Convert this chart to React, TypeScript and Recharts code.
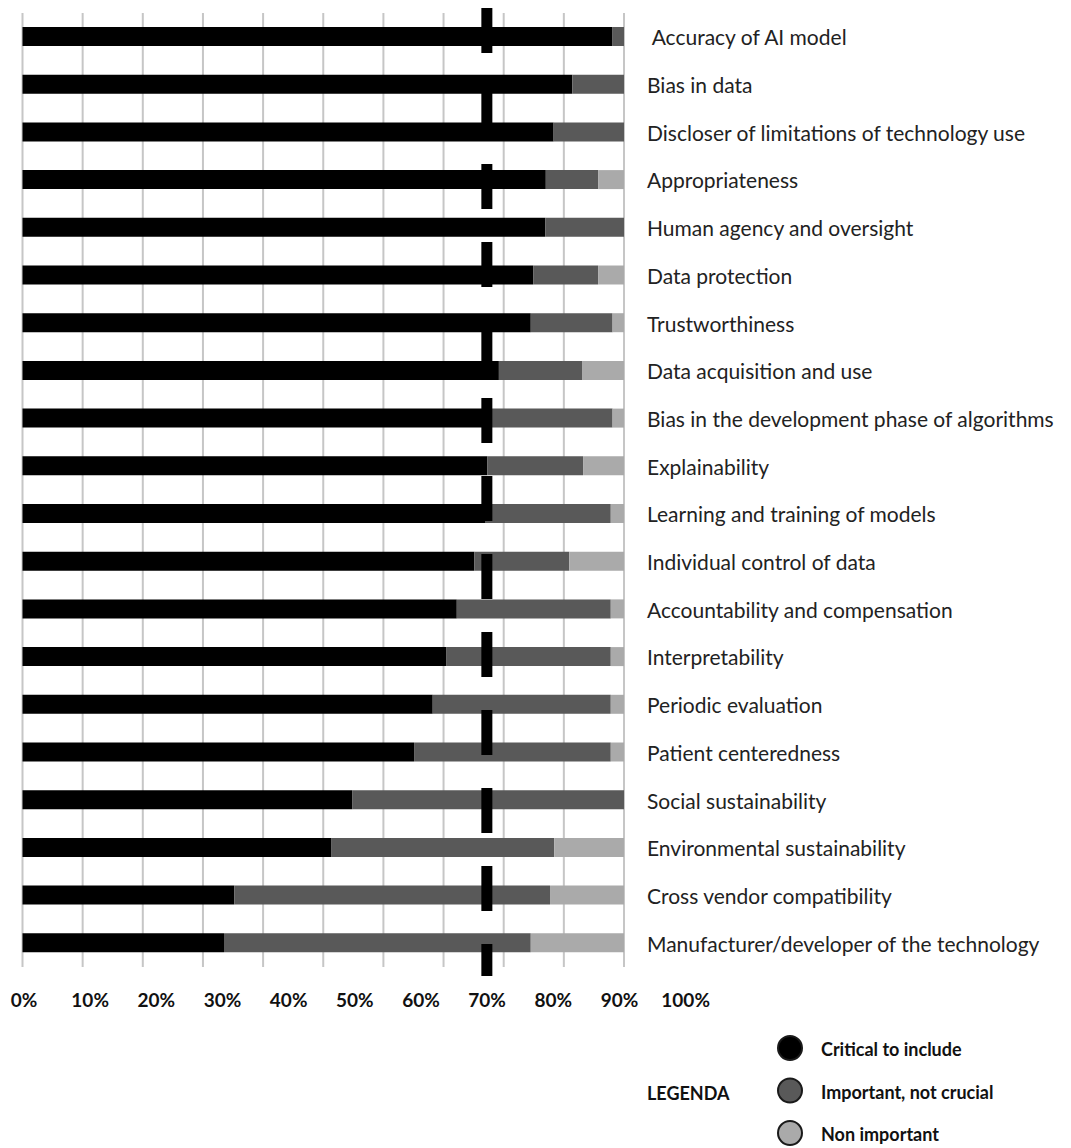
import { BarChart, Bar, XAxis, YAxis, CartesianGrid, ReferenceLine } from 'recharts';

const categories = [
  '\u00a0Accuracy of AI model',
  'Bias in data',
  'Discloser of limitations of technology use',
  'Appropriateness',
  'Human agency and oversight',
  'Data protection',
  'Trustworthiness',
  'Data acquisition and use',
  'Bias in the development phase of algorithms',
  'Explainability',
  'Learning and training of models',
  'Individual control of data',
  'Accountability and compensation',
  'Interpretability',
  'Periodic evaluation',
  'Patient centeredness',
  'Social sustainability',
  'Environmental sustainability',
  'Cross vendor compatibility',
  'Manufacturer/developer of the technology',
];

const critical = [98.1, 91.4, 88.3, 87.0, 86.9, 84.9, 84.5, 79.2, 78.0, 77.3, 77.0, 75.1, 72.2, 70.5, 68.2, 65.1, 54.8, 51.3, 35.2, 33.5];
const important = [1.9, 8.6, 11.7, 8.7, 13.1, 10.8, 13.6, 13.9, 20.1, 15.9, 20.8, 15.8, 25.6, 27.3, 29.6, 32.7, 45.2, 37.1, 52.5, 51.0];
const nonImportant = [0, 0, 0, 4.3, 0, 4.3, 1.9, 6.9, 1.9, 6.8, 2.2, 9.1, 2.2, 2.2, 2.2, 2.2, 0, 11.6, 12.3, 15.5];

const xTicks = [0, 10, 20, 30, 40, 50, 60, 70, 80, 90, 100];
const xTickLabels = ['0%', '10%', '20%', '30%', '40%', '50%', '60%', '70%', '80%', '90%', '100%'];

// threshold marker (sits under the "70%" label in the original figure)
const THRESHOLD = 77.2;

const series = [
  { key: 'critical', name: 'Critical to include', color: '#000000' },
  { key: 'important', name: 'Important, not crucial', color: '#595959' },
  { key: 'nonImportant', name: 'Non important', color: '#aaaaaa' },
];

const data = categories.map((name, i) => ({
  name,
  critical: critical[i],
  important: important[i],
  nonImportant: nonImportant[i],
}));

const PLOT_LEFT = 22.5;
const FONT = 'Lato, "Open Sans", sans-serif';

function XTick({ x, y, payload }: any) {
  const i = xTicks.indexOf(payload.value);
  // the original's tick labels are spread a bit wider than the grid
  const lx = x + (x - PLOT_LEFT) * 0.1 + 1.5;
  return (
    <text x={lx} y={y + 32} textAnchor="middle" dominantBaseline="central" fontFamily={FONT} fontWeight={700} fontSize={19} fill="#111">
      {xTickLabels[i]}
    </text>
  );
}

function YTick({ x, y, payload }: any) {
  return (
    <text x={x + 23} y={y} textAnchor="start" dominantBaseline="central" fontFamily={FONT} fontSize={21} fill="#222">
      {payload.value}
    </text>
  );
}

function DashedMarker({ x1, y1, x2, y2 }: any) {
  const top = Math.min(y1, y2);
  const bottom = Math.max(y1, y2);
  return <line x1={x1} x2={x2} y1={top - 5} y2={bottom + 9} stroke="#000" strokeWidth={11} strokeDasharray="45 33" />;
}

export default function App() {
  return (
    <div style={{ position: 'absolute', left: 0, top: 0, width: 1071, height: 1148, background: '#fff' }}>
      <BarChart
        width={1071}
        height={1148}
        data={data}
        layout="vertical"
        margin={{ top: 13, right: 0, bottom: 0, left: PLOT_LEFT }}
        barSize={19}
      >
        <CartesianGrid horizontal={false} vertical={true} stroke="#c6c6c6" strokeWidth={2} />
        <XAxis
          type="number"
          domain={[0, 100]}
          ticks={xTicks}
          height={181}
          axisLine={false}
          tickLine={false}
          tickSize={0}
          tickMargin={0}
          interval={0}
          tick={<XTick />}
        />
        <YAxis
          type="category"
          dataKey="name"
          orientation="right"
          width={447}
          axisLine={false}
          tickLine={false}
          tickSize={0}
          tickMargin={0}
          interval={0}
          tick={<YTick />}
        />
        {series.map((s) => (
          <Bar key={s.key} dataKey={s.key} name={s.name} stackId="a" fill={s.color} isAnimationActive={false} />
        ))}
        <ReferenceLine x={THRESHOLD} shape={<DashedMarker />} />
      </BarChart>

      <div style={{ position: 'absolute', left: 0, top: 1020 }}>
        <svg width={1071} height={128}>
          <text x={647} y={73} dominantBaseline="central" fontFamily={FONT} fontWeight={700} fontSize={18} fill="#111">
            LEGENDA
          </text>
          {series.map((s, i) => (
            <g key={s.key}>
              <circle cx={790} cy={28 + i * 42.5} r={12} fill={s.color} stroke="#1a1a1a" strokeWidth={2} />
              <text x={821} y={29 + i * 42.5} dominantBaseline="central" fontFamily={FONT} fontWeight={700} fontSize={18} fill="#111">
                {s.name}
              </text>
            </g>
          ))}
        </svg>
      </div>
    </div>
  );
}
